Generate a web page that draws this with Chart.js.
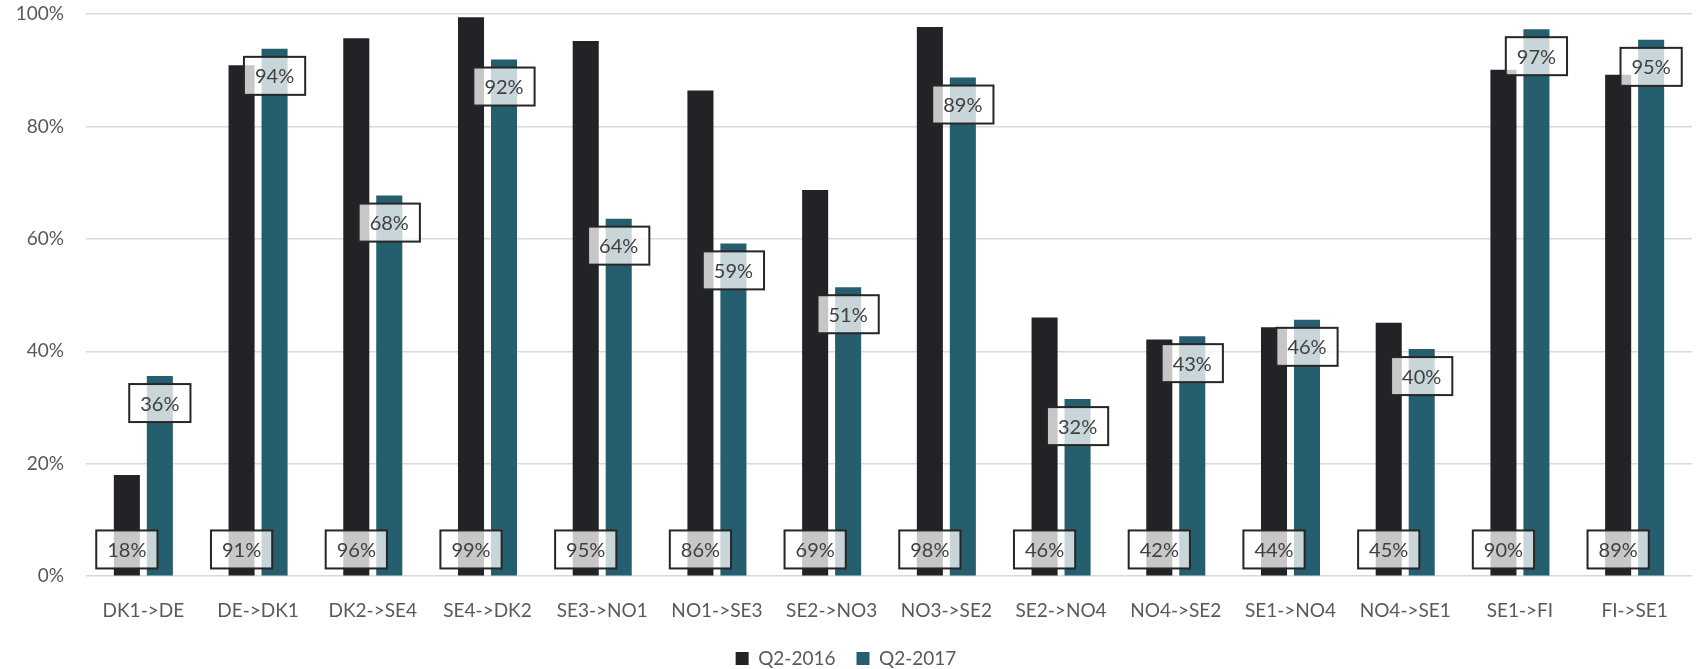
<!DOCTYPE html>
<html>
<head>
<meta charset="utf-8">
<script src="https://cdn.jsdelivr.net/npm/chart.js@4"></script>
<style>
  html, body { margin: 0; padding: 0; background: #fff; }
  #wrap { width: 1696px; height: 669px; }
</style>
</head>
<body>
<div id="wrap"><canvas id="chart"></canvas></div>
<script>
const categories = ['DK1->DE', 'DE->DK1', 'DK2->SE4', 'SE4->DK2', 'SE3->NO1', 'NO1->SE3', 'SE2->NO3',
  'NO3->SE2', 'SE2->NO4', 'NO4->SE2', 'SE1->NO4', 'NO4->SE1', 'SE1->FI', 'FI->SE1'];
const q2_2016 = [18.0, 90.9, 95.7, 99.4, 95.2, 86.4, 68.7, 97.7, 46.0, 42.1, 44.3, 45.1, 90.1, 89.2];
const q2_2017 = [35.6, 93.8, 67.7, 91.9, 63.6, 59.2, 51.4, 88.7, 31.5, 42.7, 45.6, 40.4, 97.3, 95.4];
const yTicks = [0, 20, 40, 60, 80, 100];

const FONT = 'Lato, "Open Sans", sans-serif';

// boxed value labels: first series at the bar base, second series at the bar top
const boxLabels = {
  id: 'boxLabels',
  afterDatasetsDraw(chart) {
    const ctx = chart.ctx;
    ctx.save();
    ctx.font = '20px ' + FONT;
    ctx.textAlign = 'center';
    ctx.textBaseline = 'middle';
    chart.data.datasets.forEach((ds, di) => {
      const meta = chart.getDatasetMeta(di);
      meta.data.forEach((bar, i) => {
        const txt = Math.round(ds.data[i]) + '%';
        const w = ctx.measureText(txt).width + 22;
        const h = 38;
        let top;
        if (di === 0) top = bar.base - 7 - h;
        else top = bar.y + 8;
        const left = bar.x - w / 2;
        ctx.fillStyle = 'rgba(255,255,255,0.75)';
        ctx.fillRect(left, top, w, h);
        ctx.lineWidth = 2;
        ctx.strokeStyle = '#262626';
        ctx.strokeRect(left, top, w, h);
        ctx.fillStyle = '#404040';
        ctx.fillText(txt, bar.x, top + h / 2 + 1);
      });
    });
    ctx.restore();
  }
};

new Chart(document.getElementById('chart'), {
  type: 'bar',
  data: {
    labels: categories,
    datasets: [
      { label: 'Q2-2016', data: q2_2016, backgroundColor: '#212327' },
      { label: 'Q2-2017', data: q2_2017, backgroundColor: '#255E6E' }
    ]
  },
  options: {
    responsive: true,
    maintainAspectRatio: false,
    animation: false,
    layout: { padding: { top: 14, right: 4, left: 0, bottom: -9 } },
    datasets: { bar: { categoryPercentage: 0.575, barPercentage: 0.79 } },
    plugins: {
      tooltip: { enabled: false },
      legend: {
        position: 'bottom',
        labels: {
          font: { family: FONT, size: 19 },
          color: '#595959',
          boxWidth: 13,
          boxHeight: 13,
          padding: 21
        }
      }
    },
    scales: {
      x: {
        grid: { display: false },
        border: { display: false },
        afterFit: (s) => { s.height -= 9; },
        ticks: { font: { family: FONT, size: 19 }, color: '#595959', padding: 15, maxRotation: 0 }
      },
      y: {
        min: 0,
        max: 100,
        afterFit: (s) => { s.width = 86; },
        afterBuildTicks: (s) => { s.ticks = yTicks.map(v => ({ value: v })); },
        // invisible tick marks keep the label gap without padding the top of the plot
        grid: { color: '#d9d9d9', lineWidth: 1.5, drawTicks: true, tickLength: 22, tickColor: 'rgba(0,0,0,0)' },
        border: { display: false },
        ticks: {
          font: { family: FONT, size: 19 },
          color: '#595959',
          padding: 0,
          callback: (v) => v + '%'
        }
      }
    }
  },
  plugins: [boxLabels]
});
</script>
</body>
</html>
